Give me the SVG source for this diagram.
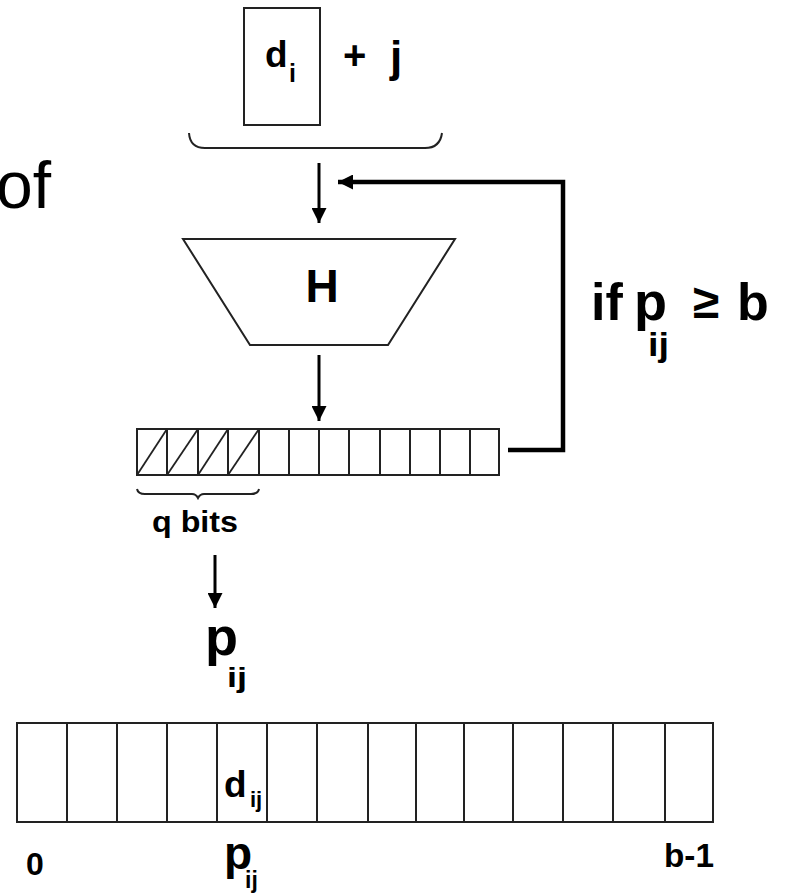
<svg xmlns="http://www.w3.org/2000/svg" width="786" height="893" viewBox="0 0 786 893">
  <style>
    .box { fill: none; stroke: #222; stroke-width: 2; }
    .cell { stroke: #222; stroke-width: 2; }
    .hatch { stroke: #222; stroke-width: 1.8; }
    .brace { fill: none; stroke: #222; stroke-width: 2; }
    .arrow { fill: none; stroke: #000; stroke-width: 3; }
    .fb { fill: none; stroke: #000; stroke-width: 4.5; }
    .lbl { font-family: "Liberation Sans", Arial, sans-serif; font-weight: bold; fill: #000; }
    .plain { font-family: "Liberation Sans", Arial, sans-serif; fill: #000; }
  </style>
  <defs>
    <marker id="head" viewBox="0 0 10 10" refX="10" refY="5" markerUnits="userSpaceOnUse" markerWidth="15" markerHeight="15" orient="auto">
      <path d="M0,0 L10,5 L0,10 z" fill="#000"/>
    </marker>
  </defs>

  <rect width="786" height="893" fill="#fff"/>

  <!-- partial caption text at the left edge -->
  <text class="plain" x="-4" y="208" font-size="66">of</text>

  <!-- input block: d_i + j -->
  <g id="input">
    <rect class="box" x="244" y="8" width="76" height="117"/>
    <text class="lbl" x="265" y="67" font-size="37">d</text>
    <text class="lbl" x="289" y="82" font-size="25">i</text>
    <text class="lbl" x="343" y="69" font-size="40">+</text>
    <text class="lbl" x="390" y="72" font-size="44">j</text>
    <path class="brace" d="M189,133 Q190,148 205,148 H425 Q440,148 442,133"/>
  </g>

  <!-- hash function -->
  <g id="hash">
    <polygon class="box" points="183,239 455,239 388,345 250,345"/>
    <text class="lbl" x="322" y="302" font-size="46" text-anchor="middle">H</text>
  </g>

  <!-- hash output bits -->
  <g id="bits">
    <rect class="box" x="137" y="429" width="362" height="46"/>
    <g class="cell">
      <line x1="167" y1="429" x2="167" y2="475"/>
      <line x1="198" y1="429" x2="198" y2="475"/>
      <line x1="228" y1="429" x2="228" y2="475"/>
      <line x1="259" y1="429" x2="259" y2="475"/>
      <line x1="289" y1="429" x2="289" y2="475"/>
      <line x1="319" y1="429" x2="319" y2="475"/>
      <line x1="349" y1="429" x2="349" y2="475"/>
      <line x1="380" y1="429" x2="380" y2="475"/>
      <line x1="410" y1="429" x2="410" y2="475"/>
      <line x1="440" y1="429" x2="440" y2="475"/>
      <line x1="470" y1="429" x2="470" y2="475"/>
    </g>
    <g class="hatch">
      <line x1="137" y1="475" x2="167" y2="429"/>
      <line x1="167" y1="475" x2="198" y2="429"/>
      <line x1="198" y1="475" x2="228" y2="429"/>
      <line x1="228" y1="475" x2="259" y2="429"/>
    </g>
    <path class="brace" d="M137,489 Q138,494 145,494 H192 Q196,494 198,498 Q200,494 204,494 H251 Q258,494 259,489"/>
    <text class="lbl" x="152" y="532" font-size="29" textLength="86" lengthAdjust="spacingAndGlyphs">q bits</text>
  </g>

  <!-- selected position -->
  <g id="position">
    <text class="lbl" x="205" y="655" font-size="54">p</text>
    <text class="lbl" x="227" y="687" font-size="28" textLength="20" lengthAdjust="spacingAndGlyphs">ij</text>
  </g>

  <!-- feedback condition -->
  <g id="condition">
    <text class="lbl" x="591" y="320" font-size="52">if</text>
    <text class="lbl" x="634" y="320" font-size="54">p</text>
    <text class="lbl" x="648" y="356" font-size="33" textLength="21" lengthAdjust="spacingAndGlyphs">ij</text>
    <text class="lbl" x="693" y="318" font-size="48">≥</text>
    <text class="lbl" x="737" y="320" font-size="52">b</text>
  </g>

  <!-- table of b slots -->
  <g id="table">
    <rect class="box" x="17" y="723" width="696" height="99"/>
    <g class="cell">
      <line x1="67" y1="723" x2="67" y2="822"/>
      <line x1="117" y1="723" x2="117" y2="822"/>
      <line x1="167" y1="723" x2="167" y2="822"/>
      <line x1="217" y1="723" x2="217" y2="822"/>
      <line x1="267" y1="723" x2="267" y2="822"/>
      <line x1="317" y1="723" x2="317" y2="822"/>
      <line x1="368" y1="723" x2="368" y2="822"/>
      <line x1="416" y1="723" x2="416" y2="822"/>
      <line x1="464" y1="723" x2="464" y2="822"/>
      <line x1="513" y1="723" x2="513" y2="822"/>
      <line x1="563" y1="723" x2="563" y2="822"/>
      <line x1="613" y1="723" x2="613" y2="822"/>
      <line x1="665" y1="723" x2="665" y2="822"/>
    </g>
    <text class="lbl" x="224" y="797" font-size="37">d</text>
    <text class="lbl" x="250" y="807" font-size="22">ij</text>
    <text class="lbl" x="26" y="875" font-size="32">0</text>
    <text class="lbl" x="224" y="869" font-size="46">p</text>
    <text class="lbl" x="245" y="888" font-size="23">ij</text>
    <text class="lbl" x="664" y="867" font-size="34" textLength="50" lengthAdjust="spacingAndGlyphs">b-1</text>
  </g>

  <!-- connectors -->
  <g id="connectors">
    <line class="arrow" x1="319" y1="163" x2="319" y2="223" marker-end="url(#head)"/>
    <line class="arrow" x1="319" y1="355" x2="319" y2="421" marker-end="url(#head)"/>
    <line class="arrow" x1="215" y1="555" x2="215" y2="608" marker-end="url(#head)"/>
    <path class="fb" d="M508,450 H563 V182 H338" marker-end="url(#head)"/>
  </g>
</svg>
